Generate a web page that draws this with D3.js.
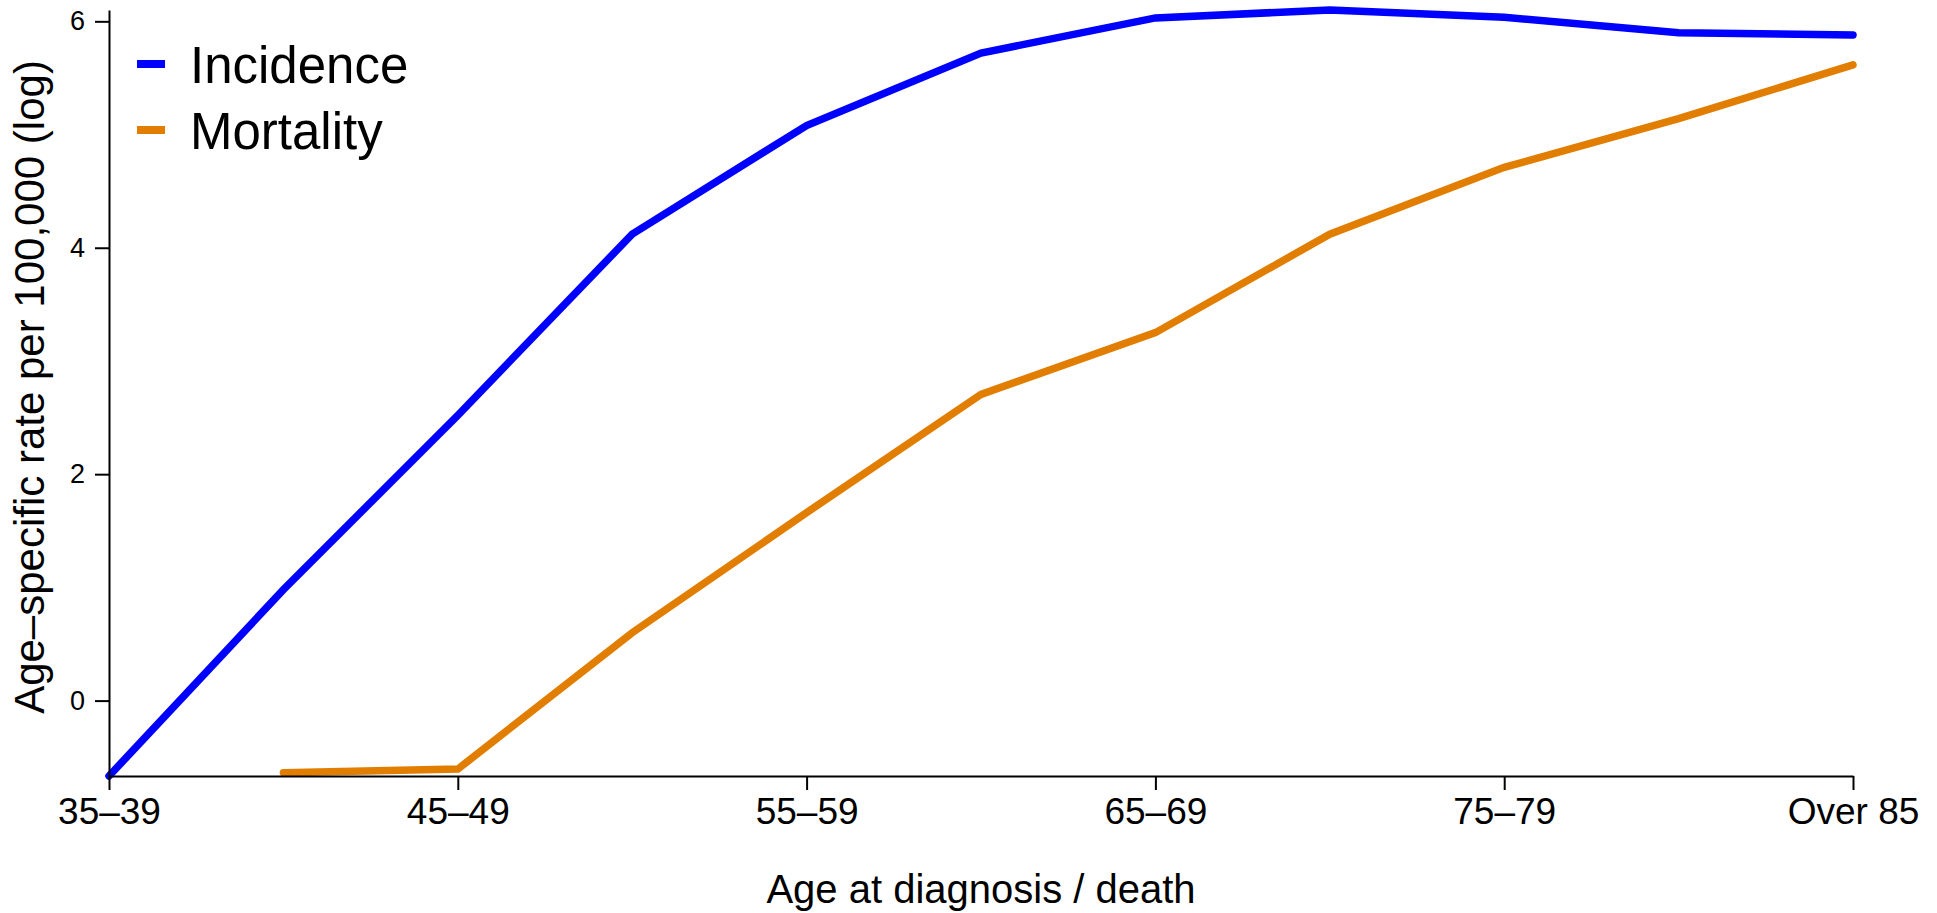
<!DOCTYPE html>
<html>
<head>
<meta charset="utf-8">
<script src="https://cdn.jsdelivr.net/npm/d3@7"></script>
<style>
  html, body { margin: 0; padding: 0; background: #fff; }
  svg { display: block; }
  text { font-family: "Liberation Sans", Arial, Helvetica, sans-serif; fill: #000; }
</style>
</head>
<body>
<svg id="chart" width="1937" height="913"></svg>
<script>
// ---- data (log age-specific rate per 100,000) ----
const ageGroups = ["35–39", "40–44", "45–49", "50–54", "55–59", "60–64",
                   "65–69", "70–74", "75–79", "80–84", "Over 85"];
const incidence = [-0.666, 0.98, 2.52, 4.12, 5.08, 5.72, 6.03, 6.10, 6.035, 5.90, 5.88];
const mortality = [null, -0.637, -0.605, 0.60, 1.66, 2.705, 3.25, 4.12, 4.71, 5.14, 5.615];
const xTickLabels = ["35–39", "45–49", "55–59", "65–69", "75–79", "Over 85"];
const yTicks = [0, 2, 4, 6];
const seriesNames = ["Incidence", "Mortality"];
const seriesColors = ["#0000FF", "#E17E00"];

const svg = d3.select("#chart");
const plot = { left: 109, right: 1853, top: 10, bottom: 776 };

const x = d3.scalePoint().domain(ageGroups).range([plot.left, plot.right]);
const allVals = incidence.concat(mortality).filter(v => v != null);
const y = d3.scaleLinear().domain([d3.min(allVals), d3.max(allVals)]).range([plot.bottom, plot.top]);

// lines
const line = d3.line()
  .defined(d => d.v != null)
  .x(d => x(d.k))
  .y(d => y(d.v));

[incidence, mortality].forEach((vals, i) => {
  const data = ageGroups.map((k, j) => ({ k, v: vals[j] }));
  svg.append("path")
    .datum(data)
    .attr("d", line)
    .attr("fill", "none")
    .attr("stroke", seriesColors[i])
    .attr("stroke-width", 7.5)
    .attr("stroke-linecap", "round")
    .attr("stroke-linejoin", "miter");
});

// x axis
const xAxis = d3.axisBottom(x)
  .tickValues(xTickLabels)
  .tickSize(14)
  .tickPadding(8)
  .tickSizeOuter(0);
const gx = svg.append("g")
  .attr("transform", `translate(0,${plot.bottom})`)
  .call(xAxis);
gx.select(".domain").attr("stroke", "#000").attr("stroke-width", 2);
gx.selectAll(".tick line").attr("stroke", "#000").attr("stroke-width", 2);
gx.selectAll(".tick text")
  .style("font-family", '"Liberation Sans", Arial, sans-serif')
  .style("font-size", "37px")
  .attr("dy", "0.71em");

// y axis
const yAxis = d3.axisLeft(y)
  .tickValues(yTicks)
  .tickFormat(d3.format("d"))
  .tickSize(14)
  .tickPadding(10)
  .tickSizeOuter(0);
const gy = svg.append("g")
  .attr("transform", `translate(${plot.left},0)`)
  .call(yAxis);
gy.select(".domain").attr("stroke", "#000").attr("stroke-width", 2);
gy.selectAll(".tick line").attr("stroke", "#000").attr("stroke-width", 2);
gy.selectAll(".tick text")
  .style("font-family", '"Liberation Sans", Arial, sans-serif')
  .style("font-size", "27px");

// axis titles
svg.append("text")
  .attr("x", (plot.left + plot.right) / 2)
  .attr("y", 903)
  .attr("text-anchor", "middle")
  .style("font-size", "40px")
  .text("Age at diagnosis / death");

svg.append("text")
  .attr("transform", `translate(44,387) rotate(-90)`)
  .attr("text-anchor", "middle")
  .style("font-size", "42px")
  .text("Age–specific rate per 100,000 (log)");

// legend
const legend = svg.append("g");
seriesNames.forEach((name, i) => {
  const cy = 64 + i * 66;
  legend.append("line")
    .attr("x1", 137).attr("x2", 165)
    .attr("y1", cy).attr("y2", cy)
    .attr("stroke", seriesColors[i])
    .attr("stroke-width", 8);
  legend.append("text")
    .attr("x", 190)
    .attr("y", cy + 19)
    .style("font-size", "51px")
    .text(name);
});
</script>
</body>
</html>
